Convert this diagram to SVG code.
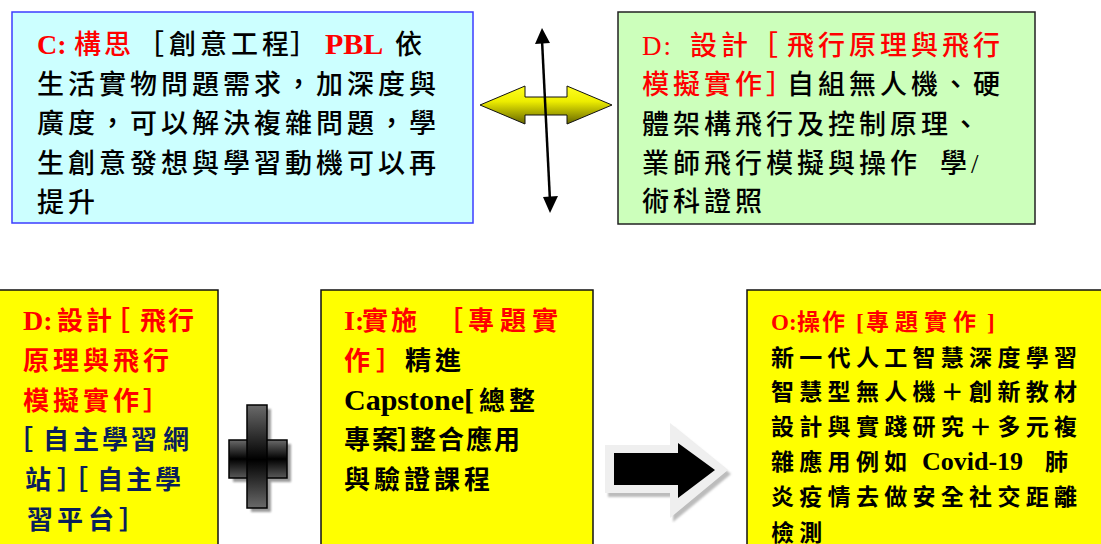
<svg xmlns="http://www.w3.org/2000/svg" width="1101" height="544" viewBox="0 0 1101 544">
<style>
  text { font-family: "Liberation Serif", "Noto Sans CJK TC", serif; }
  .top { font-size: 27px; letter-spacing: 4px; font-weight: 500; }
  .bot { font-size: 26px; letter-spacing: 4px; font-weight: 700; }
  .o { font-size: 23px; letter-spacing: 5.3px; font-weight: 700; }
  .lat { font-family: "Liberation Serif", serif; font-weight: 700; letter-spacing: 0; }
  .red { fill: #ff0000; }
  .blk { fill: #000000; }
  .navy { fill: #0a1e5a; }
</style>
<defs>
  <linearGradient id="yel" x1="0" y1="0" x2="0" y2="1">
    <stop offset="0" stop-color="#ffff20"/>
    <stop offset="0.4" stop-color="#eeee00"/>
    <stop offset="1" stop-color="#666600"/>
  </linearGradient>
  <linearGradient id="plusV" gradientUnits="userSpaceOnUse" x1="0" y1="405" x2="0" y2="508">
    <stop offset="0" stop-color="#6a6a6a"/>
    <stop offset="0.53" stop-color="#000000"/>
    <stop offset="1" stop-color="#6a6a6a"/>
  </linearGradient>
  <linearGradient id="plusH" gradientUnits="userSpaceOnUse" x1="0" y1="440" x2="0" y2="478">
    <stop offset="0" stop-color="#6a6a6a"/>
    <stop offset="0.5" stop-color="#000000"/>
    <stop offset="1" stop-color="#5a5a5a"/>
  </linearGradient>
  <filter id="blur" x="-20%" y="-20%" width="140%" height="140%">
    <feGaussianBlur stdDeviation="1.2"/>
  </filter>
</defs>

<g id="node-C">
  <rect x="12" y="12" width="461" height="211" fill="#ccffff" stroke="#3c3cff" stroke-width="1.5"/>
  <text y="54" class="top">
    <tspan x="37" class="lat red" font-size="28">C:</tspan>
    <tspan x="74" class="red" letter-spacing="3">構思</tspan>
    <tspan x="137 169 200 231 262 290" class="blk">［創意工程］</tspan>
    <tspan x="325" class="lat red" font-size="30">PBL</tspan>
    <tspan x="395" class="blk">依</tspan>
  </text>
  <text x="37" y="94" class="top blk">生活實物問題需求，加深度與</text>
  <text x="37" y="133" class="top blk">廣度，可以解決複雜問題，學</text>
  <text x="37" y="173" class="top blk">生創意發想與學習動機可以再</text>
  <text x="37" y="212" class="top blk">提升</text>
</g>

<g id="node-D-top">
  <rect x="618" y="12" width="417" height="212" fill="#ccffbb" stroke="#222222" stroke-width="1.5"/>
  <text y="55" class="top red" letter-spacing="3.4">
    <tspan x="642" letter-spacing="2">D:</tspan>
    <tspan x="690">設計</tspan>
    <tspan x="751 787">［飛行原理與飛行</tspan>
  </text>
  <text y="94" class="top" letter-spacing="3.4">
    <tspan x="642" class="red">模擬實作］</tspan>
    <tspan x="787" class="blk">自組無人機、硬</tspan>
  </text>
  <text x="642" y="134" class="top blk" letter-spacing="3.4">體架構飛行及控制原理、</text>
  <text y="173" class="top blk" letter-spacing="3.4">
    <tspan x="642">業師飛行模擬與操作</tspan>
    <tspan x="940">學/</tspan>
  </text>
  <text x="642" y="211" class="top blk" letter-spacing="3.4">術科證照</text>
</g>

<g id="node-D-bottom">
  <rect x="-2" y="290" width="220" height="270" fill="#ffff00" stroke="#111111" stroke-width="1.5"/>
  <text y="330" class="bot red">
    <tspan x="23" class="lat" font-size="28">D:</tspan>
    <tspan x="57 86 104 140 168">設計［飛行</tspan>
  </text>
  <text x="23" y="370" class="bot red" letter-spacing="5">原理與飛行</text>
  <text x="23" y="410" class="bot red" letter-spacing="5">模擬實作］</text>
  <text x="7 43 73 102 131 163" y="449" class="bot navy">［自主學習網</text>
  <text x="25 57 62 97 126 155" y="489" class="bot navy">站］［自主學</text>
  <text x="27 57 88 119" y="529" class="bot navy">習平台］</text>
</g>

<g id="node-I">
  <rect x="321" y="290" width="272" height="270" fill="#ffff00" stroke="#111111" stroke-width="1.5"/>
  <text y="330" class="bot red">
    <tspan x="344" class="lat" font-size="28">I:</tspan>
    <tspan x="362 391 437 468 500 532">實施［專題實</tspan>
  </text>
  <text y="370" class="bot">
    <tspan x="344 376" class="red">作］</tspan>
    <tspan x="405 435" class="blk">精進</tspan>
  </text>
  <text y="410" class="bot blk">
    <tspan x="344" class="lat" font-size="30">Capstone[</tspan>
    <tspan x="479 509">總整</tspan>
  </text>
  <text x="344 372 397 410 438 466 494" y="449" class="bot blk">專案］整合應用</text>
  <text x="344" y="489" class="bot blk" letter-spacing="3.5">與驗證課程</text>
</g>

<g id="node-O">
  <rect x="747" y="290" width="370" height="270" fill="#ffff00" stroke="#111111" stroke-width="1.5"/>
  <text y="330" class="o red" font-size="22">
    <tspan x="771" class="lat">O:</tspan>
    <tspan x="797" letter-spacing="2">操作</tspan>
    <tspan x="856" class="lat">[</tspan>
    <tspan x="866" letter-spacing="6">專題實作</tspan>
    <tspan x="987" class="lat">]</tspan>
  </text>
  <text x="771" y="366" class="o blk">新一代人工智慧深度學習</text>
  <text x="771" y="400" class="o blk">智慧型無人機＋創新教材</text>
  <text x="771" y="435" class="o blk">設計與實踐研究＋多元複</text>
  <text y="470" class="o blk">
    <tspan x="771">雜應用例如</tspan>
    <tspan x="922" class="lat" font-size="26">Covid-19</tspan>
    <tspan x="1045">肺</tspan>
  </text>
  <text x="771" y="505" class="o blk">炎疫情去做安全社交距離</text>
  <text x="771" y="541" class="o blk">檢測</text>
</g>

<g id="connectors">
  <polygon id="yellow-double-arrow" points="480,105 525,86 525,97 567,97 567,86 612,105 567,124 567,115 525,115 525,124" fill="url(#yel)" stroke="#111111" stroke-width="1"/>
  <g id="vertical-double-arrow">
    <line x1="542" y1="40" x2="550" y2="201" stroke="#000000" stroke-width="2.5"/>
    <polygon points="542,28 535,44 550,43" fill="#000000"/>
    <polygon points="550,213 543,197 558,196" fill="#000000"/>
  </g>
  <g id="plus">
    <g filter="url(#blur)" fill="#8a8a8a" opacity="0.85">
      <rect x="251" y="409" width="20" height="103"/>
      <rect x="233" y="444" width="58" height="38"/>
    </g>
    <rect x="229" y="440" width="58" height="38" fill="url(#plusH)" stroke="#000000" stroke-width="1.5"/>
    <rect x="247" y="405" width="20" height="103" fill="url(#plusV)" stroke="#000000" stroke-width="1.5"/>
  </g>
  <g id="block-arrow">
    <polygon points="608,449 673,449 673,427 731,474 673,522 673,497 608,497" fill="#bcbcbc" filter="url(#blur)"/>
    <polygon points="605,445 670,445 670,423 728,470 670,518 670,493 605,493" fill="#efefef"/>
    <polygon points="614,453 678,453 678,443 715,470 678,498 678,485 614,485" fill="#000000"/>
  </g>
</g>
</svg>
